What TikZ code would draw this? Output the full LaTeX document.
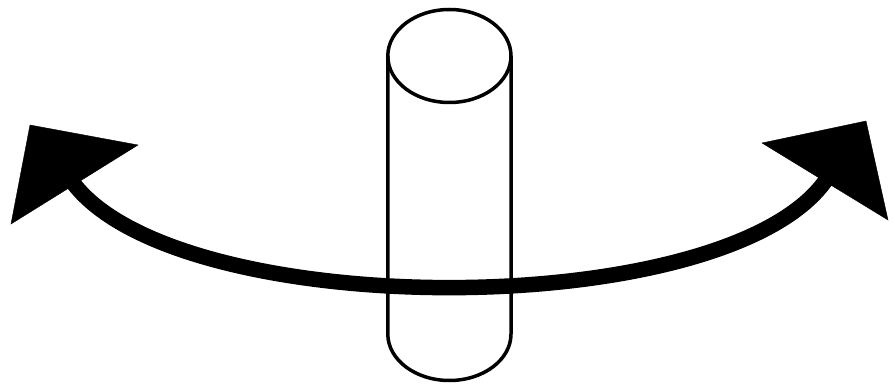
\documentclass[tikz,border=0pt]{standalone}
\begin{document}
\begin{tikzpicture}[x=1pt,y=1pt]
            \useasboundingbox (0,0) rectangle (895,386);
            % cylinder
            \draw[-, line width=3.5pt] (449.4,330) ellipse [x radius=61.6, y radius=46.5];
            \draw[-, line width=3.5pt] (387.8,330) -- (387.8,52) arc[start angle=180, end angle=360, x radius=61.6, y radius=46.5] -- (511,330);
            % rotation arrow
            \coordinate (left end) at (71,206);
            \coordinate (right end) at (828,209);
            \draw[-, line width=15.5pt] (left end) .. controls (172,62) and (733,62) .. (right end);
            \filldraw[
                fill = black,
                draw = black
            ]
            (30,261) -- (138,241) -- (11,162) -- cycle;
            \filldraw[
                fill = black,
                draw = black
            ]
            (762,243) -- (866,265) -- (888,166) -- cycle;
        \end{tikzpicture}
\end{document}
